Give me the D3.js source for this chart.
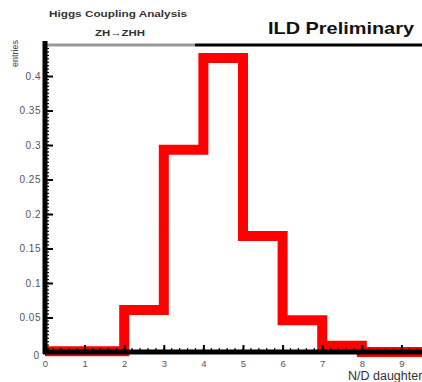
<!DOCTYPE html>
<html>
<head>
<meta charset="utf-8">
<script src="https://cdn.jsdelivr.net/npm/d3@7"></script>
<style>
  body { margin: 0; background: #fff; }
  svg { display: block; font-family: "Liberation Sans", Arial, sans-serif; }
</style>
</head>
<body>
<div id="chart"></div>
<script>
// bin lower edges and fraction of entries per bin
const binEdges = [0, 1, 2, 3, 4, 5, 6, 7, 8, 9];
const entries = [0.001, 0.001, 0.061, 0.293, 0.426, 0.168, 0.046, 0.009, 0.0, 0.0];
const yTicks = [0.05, 0.1, 0.15, 0.2, 0.25, 0.3, 0.35, 0.4];
const xTicks = [0, 1, 2, 3, 4, 5, 6, 7, 8, 9];
const yTickLabels = ["0.05", "0.1", "0.15", "0.2", "0.25", "0.3", "0.35", "0.4"];

const W = 422, H = 382;
// plot frame (window.top is reserved, hence the names)
const frameL = 45, frameR = 422, frameT = 45, frameB = 352;

var svg = d3.select("#chart").append("svg")
  .attr("width", W)
  .attr("height", H);

var x = d3.scaleLinear().domain([0, 9.52]).range([frameL, frameR]);
var y = d3.scaleLinear().domain([0, 0.445]).range([frameB, frameT]);

// histogram outline
var pts = binEdges.map((e, i) => [e, entries[i]]);
pts.push([10, entries[entries.length - 1]]);
svg.append("path")
  .datum(pts)
  .attr("fill", "none")
  .attr("stroke", "#ff0000")
  .attr("stroke-width", 10)
  .attr("stroke-linejoin", "miter")
  .attr("d", d3.line().x(d => x(d[0])).y(d => y(d[1])).curve(d3.curveStepAfter));

// top frame line
svg.append("line").attr("x1", frameL).attr("x2", 195).attr("y1", frameT).attr("y2", frameT)
  .attr("stroke", "#999").attr("stroke-width", 3);
svg.append("line").attr("x1", 195).attr("x2", frameR).attr("y1", frameT).attr("y2", frameT)
  .attr("stroke", "#000").attr("stroke-width", 3);

// minor ticks
var yMinor = d3.range(0, 0.445, 0.005);
svg.append("g").selectAll("line").data(yMinor).enter().append("line")
  .attr("x1", frameL).attr("x2", frameL + 4)
  .attr("y1", d => y(d)).attr("y2", d => y(d))
  .attr("stroke", "#000").attr("stroke-width", 1.2);
var xMinor = d3.range(0, 9.52, 0.2);
svg.append("g").selectAll("line").data(xMinor).enter().append("line")
  .attr("x1", d => x(d)).attr("x2", d => x(d))
  .attr("y1", frameB).attr("y2", frameB - 4)
  .attr("stroke", "#000").attr("stroke-width", 1.2);

// y axis
var yAxis = svg.append("g")
  .attr("transform", "translate(" + frameL + ",0)")
  .call(d3.axisRight(y).tickValues(yTicks).tickSize(8).tickFormat((d, i) => yTickLabels[i]));
yAxis.select(".domain").attr("stroke-width", 5).attr("d", "M0," + (frameT - 4) + "V" + (frameB + 2));
yAxis.selectAll(".tick line").attr("stroke-width", 2);
yAxis.selectAll(".tick text")
  .attr("x", -4).attr("text-anchor", "end")
  .style("font-size", "10px").style("letter-spacing", "0.5px").attr("fill", "#555");
svg.append("text").attr("x", 39).attr("y", 359).attr("text-anchor", "end")
  .style("font-size", "10px").attr("fill", "#555").text("0");

// x axis
var xAxis = svg.append("g")
  .attr("transform", "translate(0," + frameB + ")")
  .call(d3.axisTop(x).tickValues(xTicks).tickSize(7).tickFormat(d3.format("d")));
xAxis.select(".domain").attr("stroke-width", 5).attr("d", "M" + (frameL - 2) + ",0H" + frameR);
xAxis.selectAll(".tick line").attr("stroke-width", 2);
xAxis.selectAll(".tick text")
  .attr("y", 15).attr("dy", 0)
  .style("font-size", "9.5px").attr("fill", "#555");

// axis titles
svg.append("text").attr("x", 348).attr("y", 380)
  .style("font-size", "12.5px").attr("fill", "#333").text("N/D daughter");
svg.append("text").attr("transform", "translate(18,67) rotate(-90)")
  .style("font-size", "9px").attr("fill", "#444").text("entries");

// titles
svg.append("text").attr("x", 118).attr("y", 17).attr("text-anchor", "middle")
  .attr("textLength", 138).attr("lengthAdjust", "spacingAndGlyphs")
  .style("font-size", "9px").style("font-weight", "bold").attr("fill", "#333")
  .text("Higgs Coupling Analysis");
svg.append("text").attr("x", 120).attr("y", 36).attr("text-anchor", "middle")
  .attr("textLength", 50).attr("lengthAdjust", "spacingAndGlyphs")
  .style("font-size", "9px").style("font-weight", "bold").attr("fill", "#333")
  .text("ZH\u2192ZHH");
svg.append("text").attr("x", 414).attr("y", 34).attr("text-anchor", "end")
  .attr("textLength", 146).attr("lengthAdjust", "spacingAndGlyphs")
  .style("font-size", "17px").style("font-weight", "bold").attr("fill", "#111")
  .text("ILD Preliminary");
</script>
</body>
</html>
